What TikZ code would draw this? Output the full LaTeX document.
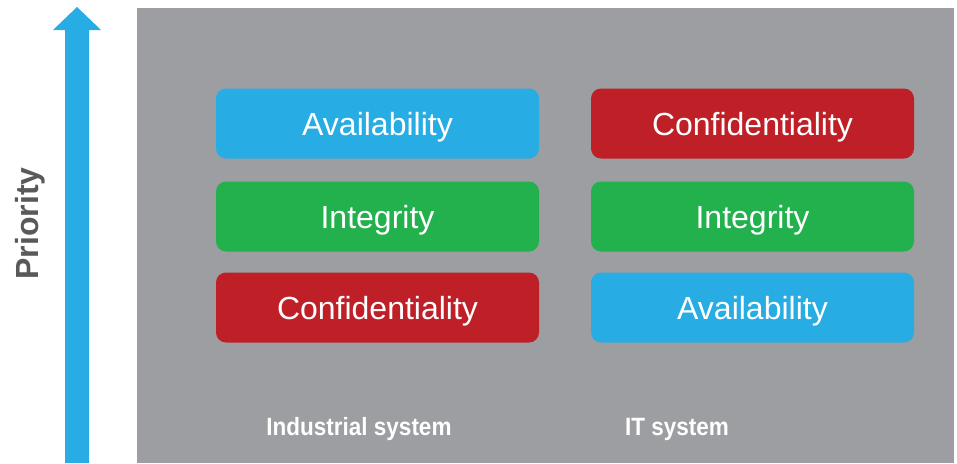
\documentclass[tikz,border=0pt]{standalone}
\usepackage{fontspec}
\setmainfont{Liberation Sans}
\newfontfamily\labelfont[FakeStretch=0.9]{Liberation Sans}
\definecolor{panelgray}{HTML}{9D9EA2}
\definecolor{cblue}{HTML}{27ADE3}
\definecolor{cgreen}{HTML}{23B14D}
\definecolor{cred}{HTML}{BF1F26}
\definecolor{prioritygray}{HTML}{58595B}
\tikzset{
  ciabox/.style={rectangle, rounded corners=10pt, minimum width=323pt, minimum height=70pt,
    inner sep=0pt, text height=23pt, text depth=0pt, text=white,
    font=\fontsize{32}{32}\selectfont},
  syslabel/.style={anchor=base, text=white, inner sep=0pt, font=\labelfont\bfseries\fontsize{25}{25}\selectfont},
}
\begin{document}
\begin{tikzpicture}[x=1pt,y=-1pt]
\useasboundingbox (0,0) rectangle (957,463);
\fill[panelgray] (137,8) rectangle (954,463);
% priority arrow
\fill[cblue] (65,463) -- (65,30) -- (53,30) -- (77,7) -- (101,30) -- (89,30) -- (89,463) -- cycle;
\node[rotate=90, text=prioritygray, inner sep=0pt, text height=23pt, text depth=0pt,
  font=\bfseries\fontsize{32}{32}\selectfont] (prio) at (26.5,223.5) {Priority};
% industrial column
\node[ciabox, fill=cblue]  (ia) at (377.5,123.5) {Availability};
\node[ciabox, fill=cgreen] (ii) at (377.5,216.5) {Integrity};
\node[ciabox, fill=cred]   (ic) at (377.5,307.5) {Confidentiality};
% IT column
\node[ciabox, fill=cred]   (tc) at (752.5,123.5) {Confidentiality};
\node[ciabox, fill=cgreen] (ti) at (752.5,216.5) {Integrity};
\node[ciabox, fill=cblue]  (ta) at (752.5,307.5) {Availability};
% labels
\node[syslabel] (il) at (359,435) {Industrial system};
\node[syslabel] (tl) at (677,435) {IT system};
\end{tikzpicture}
\end{document}
